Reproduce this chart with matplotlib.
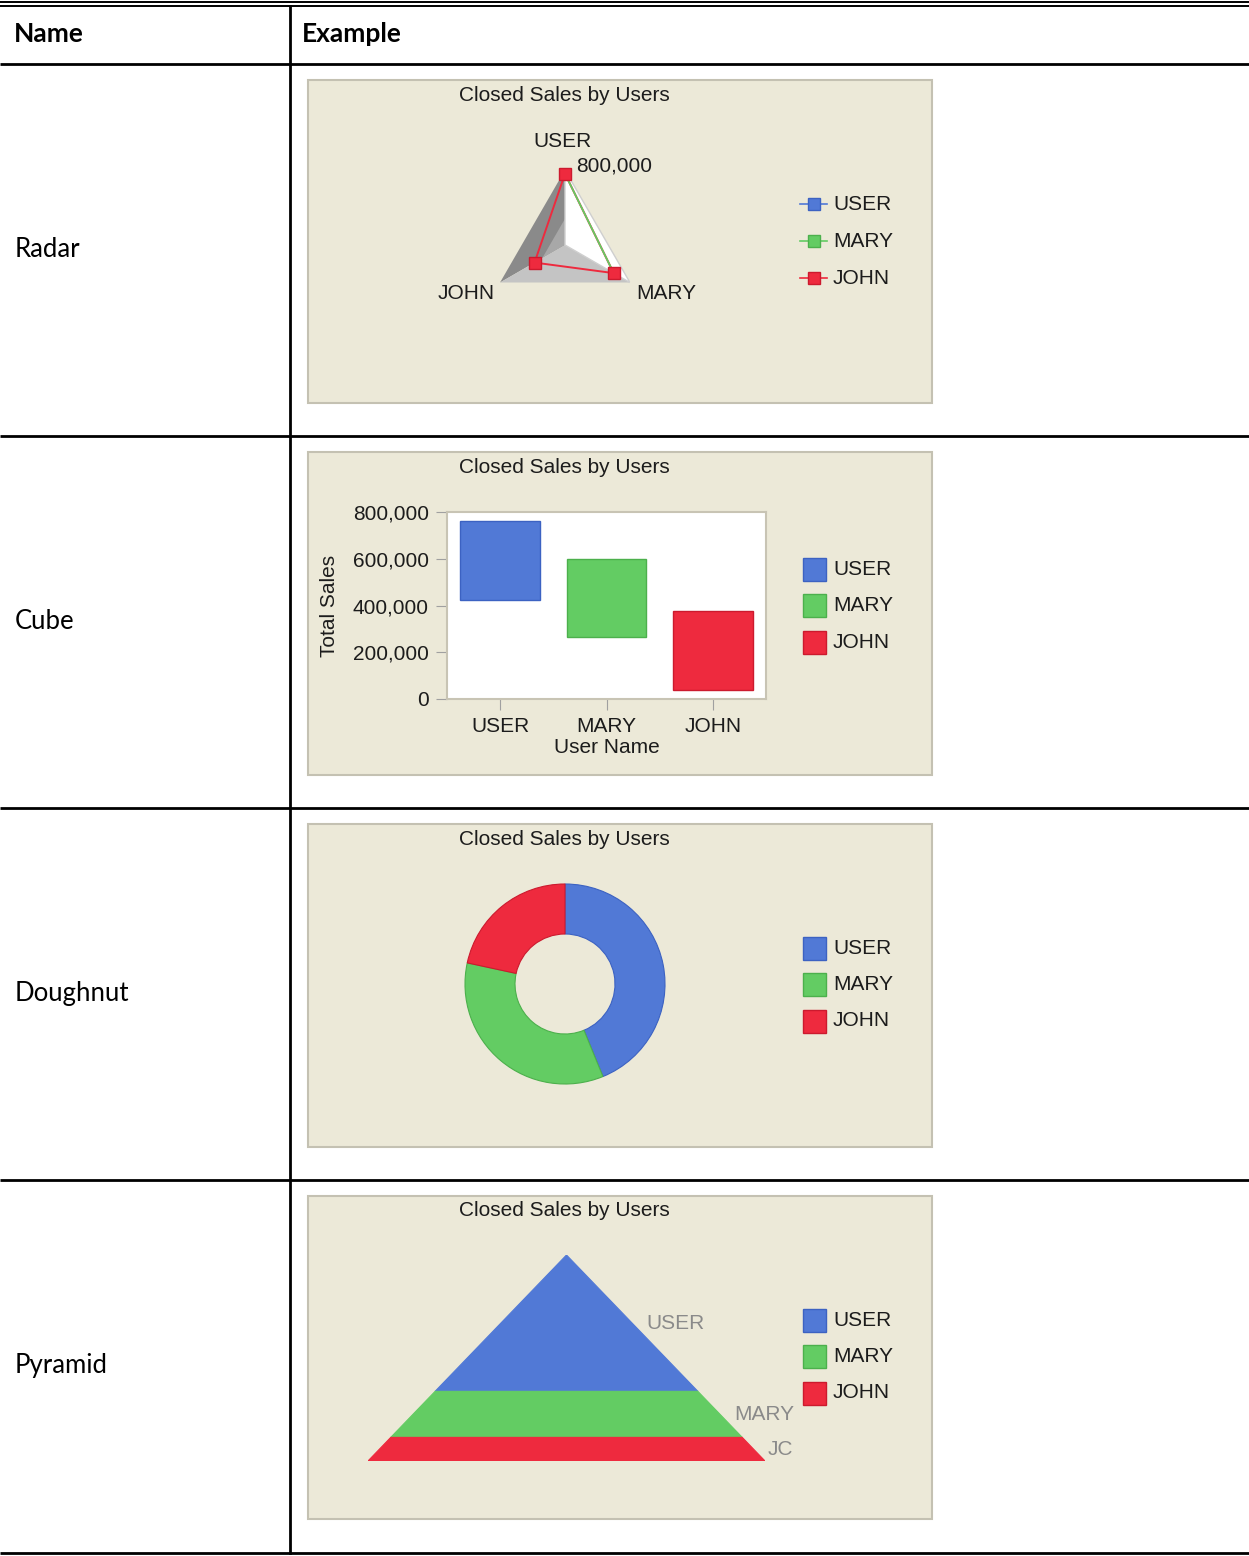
import numpy as np
import matplotlib
matplotlib.use("Agg")
import matplotlib.pyplot as plt
from matplotlib.patches import Rectangle, Polygon

# data
users = ["USER", "MARY", "JOHN"]
sales = [760000, 600000, 375000]
radar_green = [760000, 600000]          # MARY line, USER -> MARY axis only
radar_max = 800000
cube_ticks = [0, 200000, 400000, 600000, 800000]
pyramid_labels = ["USER", "MARY", "JC"]
row_names = ["Radar", "Cube", "Doughnut", "Pyramid"]

colors = ["#5179d6", "#63cc63", "#ee2a3e"]
edges = ["#3c62c2", "#4cb04c", "#cc1a2e"]
panel_bg = "#ece9d8"
txt = "#1c1c1c"
cfont = "Liberation Sans"
cs = 15

W, H = 1249, 1556
fig = plt.figure(figsize=(W / 100, H / 100), dpi=100)
bg = fig.add_axes([0, 0, 1, 1])
bg.set_xlim(0, W)
bg.set_ylim(H, 0)
bg.axis("off")


def px_axes(x0, y0, x1, y1, **kw):
    return fig.add_axes([x0 / W, 1 - y1 / H, (x1 - x0) / W, (y1 - y0) / H], **kw)


# table grid
for y, lw in [(2, 1.4), (6, 1.4), (63.7, 2.0), (435.5, 2.0), (807.5, 2.0), (1179.5, 2.0), (1553, 2.0)]:
    bg.plot([0, W], [y, y], color="black", lw=lw, solid_capstyle="butt")
bg.plot([290, 290], [6, 1553], color="black", lw=2.0)

bg.text(14, 34, "Name", family="Lato", weight="bold", fontsize=19, va="center", ha="left")
bg.text(302, 34, "Example", family="Lato", weight="bold", fontsize=19, va="center", ha="left")

row_h = 372
tops = [79.5 + i * row_h for i in range(4)]
for i, name in enumerate(row_names):
    bg.text(15, 249 + i * row_h, name, family="Lato", fontsize=18.5, va="center", ha="left")
    t = tops[i]
    bg.add_patch(Rectangle((309.5, t + 1.5), 624, 323, facecolor="#d9d9d4", edgecolor="none"))
    bg.add_patch(Rectangle((308, t), 624, 323, facecolor=panel_bg, edgecolor="#c4c1b2", lw=1.5))
    bg.text(564, t + 15.5, "Closed Sales by Users", family=cfont, fontsize=cs, color=txt,
            ha="center", va="center")


def square_legend(top, first=124.5):
    for k, u in enumerate(users):
        y = top + first + 36.5 * k
        bg.add_patch(Rectangle((803, y - 11.5), 23, 23, facecolor=colors[k], edgecolor=edges[k], lw=1))
        bg.text(833, y, u, family=cfont, fontsize=cs, color=txt, ha="left", va="center")


# ---- radar
ax = px_axes(490, 170, 640, 320, projection="polar")
ax.set_theta_offset(np.pi / 2)
ax.set_theta_direction(-1)
ax.set_ylim(0, radar_max)
ax.axis("off")
th = np.arange(3) * 2 * np.pi / 3
tu, tm, tj = th
ax.fill([tu, tj, 0], [radar_max, radar_max, 0], color="#8a8a8a", lw=0)
ax.fill([tu, tj, 0], [radar_max * 0.35, radar_max * 0.35, 0], color="#a8a8a8", lw=0)
ax.fill([tj, tm, 0], [radar_max, radar_max, 0], color="#c4c4c4", lw=0)
ax.fill([tu, tm, 0], [radar_max, radar_max, 0], facecolor="white", edgecolor="#cfcfcf", lw=1)
ax.plot(np.append(th, th[0]), sales + sales[:1], color=colors[2], lw=1.4, zorder=3, clip_on=False)
ax.plot([tu, tm], radar_green, color=colors[1], lw=1.3, zorder=4, clip_on=False)
ax.plot(th, sales, ls="none", marker="s", ms=9, mfc=colors[2], mec=edges[2], zorder=5, clip_on=False)

bg.text(563, 141, "USER", family=cfont, fontsize=cs, color=txt, ha="center", va="center")
bg.text(576, 166, "800,000", family=cfont, fontsize=cs, color=txt, ha="left", va="center")
bg.text(466, 293, "JOHN", family=cfont, fontsize=cs, color=txt, ha="center", va="center")
bg.text(666, 293, "MARY", family=cfont, fontsize=cs, color=txt, ha="center", va="center")

for k, u in enumerate(users):
    y = tops[0] + 124.5 + 37 * k
    bg.plot([800, 827], [y, y], color=colors[k], lw=1.2)
    bg.plot([814], [y], marker="s", ms=8, mfc=colors[k], mec=edges[k])
    bg.text(833, y, u, family=cfont, fontsize=cs, color=txt, ha="left", va="center")

# ---- cube
ax = px_axes(447, 512, 766, 699)
x = np.arange(3)
cube = 336000
ax.bar(x, cube, bottom=np.array(sales) - cube, width=0.75, color=colors, edgecolor=edges, lw=1)
ax.set_xlim(-0.5, 2.5)
ax.set_ylim(0, 800000)
ax.set_facecolor("white")
for s in ax.spines.values():
    s.set_color("#c8c4b4")
    s.set_linewidth(1.5)
ax.set_yticks(cube_ticks)
ax.set_yticklabels([f"{v:,}" for v in cube_ticks])
ax.set_xticks(x)
ax.set_xticklabels(users)
ax.tick_params(length=8, color="#a0a0a0", labelsize=cs, labelcolor=txt, pad=5)
for lab in ax.get_xticklabels() + ax.get_yticklabels():
    lab.set_family(cfont)
ax.set_ylabel("Total Sales", family=cfont, fontsize=cs, color=txt)
ax.yaxis.set_label_coords(-0.338, 0.5)
ax.set_xlabel("User Name", family=cfont, fontsize=cs, color=txt)
ax.xaxis.set_label_coords(0.5, -0.21)
square_legend(tops[1], first=117.5)

# ---- doughnut
ax = px_axes(464, 883, 666, 1085)
wedges, _ = ax.pie(sales, colors=colors, startangle=90, counterclock=False,
                   wedgeprops=dict(width=0.5, lw=0.8))
for w, ec in zip(wedges, edges):
    w.set_edgecolor(ec)
ax.set_xlim(-1.01, 1.01)
ax.set_ylim(-1.01, 1.01)
ax.set_aspect("equal")
square_legend(tops[2])

# ---- pyramid
ax = px_axes(368, 1255, 765, 1461)
ax.set_xlim(-1, 1)
ax.set_ylim(1, 0)
ax.axis("off")
cum = np.sqrt(np.cumsum(sales) / np.sum(sales))
h0 = 0.0
for k, h1 in enumerate(cum):
    ax.add_patch(Polygon([(-h0, h0), (h0, h0), (h1, h1), (-h1, h1)], closed=True,
                         facecolor=colors[k], edgecolor=colors[k], lw=0.8))
    mid = (h0 + h1) / 2
    ax.annotate(pyramid_labels[k], xy=(mid, mid), xytext=(10, 0), textcoords="offset points",
                family=cfont, fontsize=cs, color="#8a8a8a", ha="left", va="center",
                annotation_clip=False)
    h0 = h1
square_legend(tops[3])

fig.savefig("out.png", dpi=100)
